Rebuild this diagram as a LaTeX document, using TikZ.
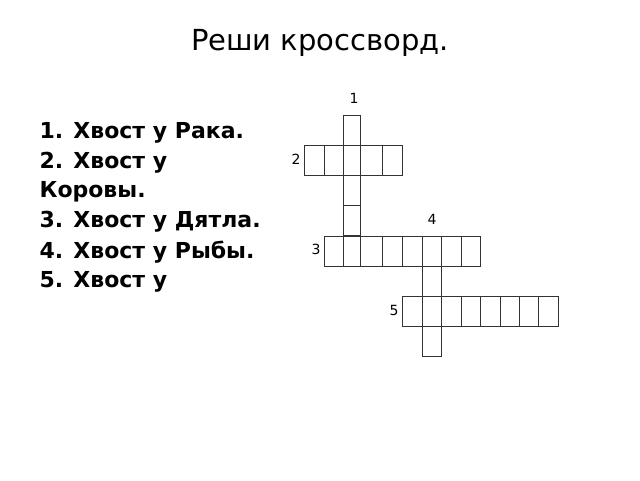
\documentclass[tikz,border=0pt]{standalone}
\usepackage{fontspec}
\setmainfont{DejaVu Sans}
\tikzset{
    cell/.style={draw=black!80,line width=0.8pt},
    clue/.style={font=\fontsize{22}{26}\selectfont\bfseries,anchor=west},
    num/.style={font=\fontsize{14}{16}\selectfont},
}
\begin{document}
\begin{tikzpicture}[x=1pt,y=-1pt]
  \useasboundingbox (0,0) rectangle (640,480);
  \node[font=\fontsize{29}{32}\selectfont] (title) at (320,43) {Реши кроссворд.};

  \node[clue] (c1) at (36,133) {1. Хвост у Рака.};
  \node[clue] (c2) at (36,163) {2. Хвост у};
  \node[clue] (c2b) at (36,192) {Коровы.};
  \node[clue] (c3) at (36,222) {3. Хвост у Дятла.};
  \node[clue] (c4) at (36,252) {4. Хвост у Рыбы.};
  \node[clue] (c5) at (36,282) {5. Хвост у};

  % 1 down
  \foreach \y in {115,145,175,205}
    \draw[cell] (343,\y) rectangle (360,\y+30);
  % 2 across
  \foreach \a/\b in {304/324,324/343,343/360,360/382,382/402}
    \draw[cell] (\a,145) rectangle (\b,175);
  % 3 across
  \foreach \a/\b in {324/343,343/360,360/382,382/402,402/422,422/441,441/461,461/480}
    \draw[cell] (\a,236) rectangle (\b,266);
  % 4 down
  \foreach \y in {266,326}
    \draw[cell] (422,\y) rectangle (441,\y+30);
  % 5 across
  \foreach \a/\b in {402/422,422/441,441/461,461/480,480/500,500/519,519/538,538/558}
    \draw[cell] (\a,296) rectangle (\b,326);

  \node[num] (n1) at (354,98) {1};
  \node[num] (n2) at (296,159) {2};
  \node[num] (n3) at (316,249) {3};
  \node[num] (n4) at (432,219) {4};
  \node[num] (n5) at (394,310) {5};
\end{tikzpicture}
\end{document}
